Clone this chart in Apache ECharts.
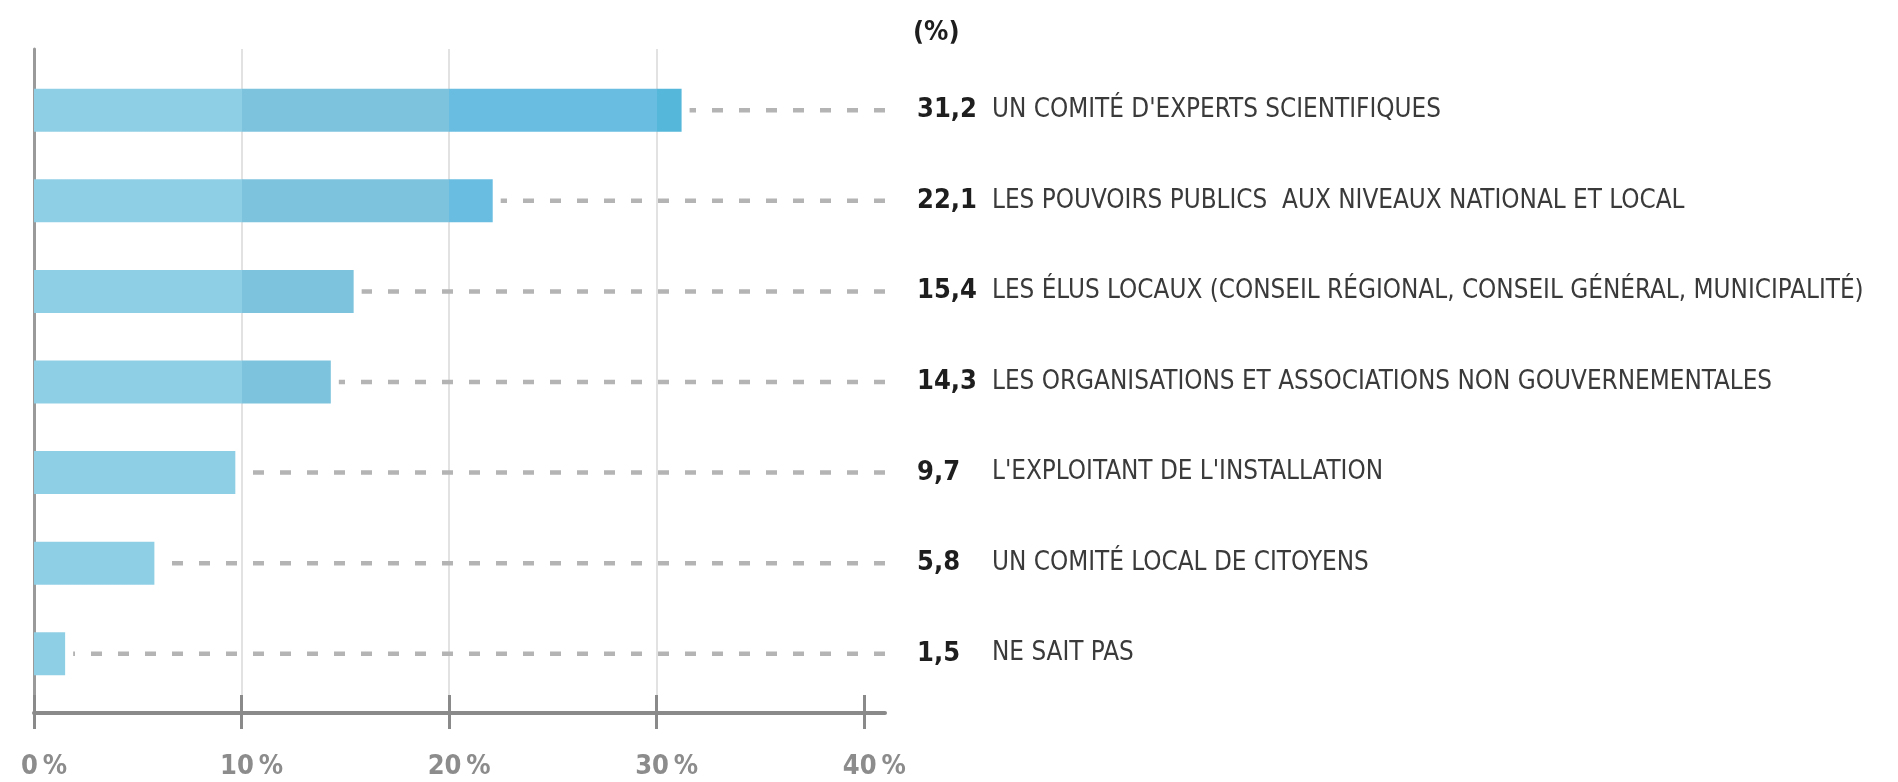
<!DOCTYPE html>
<html>
<head>
<meta charset="utf-8">
<script src="https://cdn.jsdelivr.net/npm/echarts@6/dist/echarts.min.js"></script>
<style>
  html, body { margin: 0; background: #fff; }
  #chart { width: 1898px; height: 782px; }
</style>
</head>
<body>
<div id="chart"></div>
<script>
// données
const categories = [
  "UN COMITÉ D'EXPERTS SCIENTIFIQUES",
  'LES POUVOIRS PUBLICS  AUX NIVEAUX NATIONAL ET LOCAL',
  'LES ÉLUS LOCAUX (CONSEIL RÉGIONAL, CONSEIL GÉNÉRAL, MUNICIPALITÉ)',
  'LES ORGANISATIONS ET ASSOCIATIONS NON GOUVERNEMENTALES',
  "L'EXPLOITANT DE L'INSTALLATION",
  'UN COMITÉ LOCAL DE CITOYENS',
  'NE SAIT PAS',
];
const values = [31.2, 22.1, 15.4, 14.3, 9.7, 5.8, 1.5];
const tickValues = [0, 10, 20, 30, 40];
const axisMax = 41;
const shadeBreaks = [0, 10, 20, 30, 41];
const shadeColors = ['#8fcfe5', '#7dc3de', '#68bde0', '#55b7da'];

const font = "'Liberation Sans Narrow', 'DejaVu Sans Condensed', 'Open Sans', sans-serif";
const fmt = (v) => v.toFixed(1).replace('.', ',');

// dégradé en paliers de 10 %
function stepGradient(v) {
  const stops = [];
  for (let k = 0; k < shadeColors.length; k++) {
    const lo = shadeBreaks[k];
    const hi = shadeBreaks[k + 1];
    if (lo >= v) break;
    stops.push({ offset: lo / v, color: shadeColors[k] });
    stops.push({ offset: Math.min(hi, v) / v, color: shadeColors[k] });
  }
  return new echarts.graphic.LinearGradient(0, 0, 1, 0, stops);
}

const chart = echarts.init(document.getElementById('chart'));

const G = { left: 34, right: 1013, outerBoundsMode: 'none', containLabel: false };

chart.setOption({
  animation: false,
  textStyle: { fontFamily: font },
  title: {
    text: '(%)',
    left: 908,
    top: 14,
    textStyle: { fontFamily: font, fontSize: 27, fontWeight: 'bold', color: '#1e1e1e' },
  },
  grid: [
    { ...G, top: 49, bottom: 69 },   // axes, grille
    { ...G, top: 65, bottom: 83 },   // barres
  ],
  xAxis: [
    {
      gridIndex: 0, type: 'value', min: 0, max: axisMax, interval: 10,
      axisLine: { lineStyle: { color: '#8a8a8a', width: 4 } },
      axisTick: { customValues: tickValues, length: 16, lineStyle: { color: '#8a8a8a', width: 3 } },
      axisLabel: {
        customValues: tickValues,
        margin: 40,
        padding: [0, 0, 0, 20],
        fontSize: 27, fontWeight: 'bold', color: '#8c8c8c', fontFamily: font,
        formatter: (v) => (tickValues.includes(v) ? v + '\u202f%' : ''),
      },
      splitLine: { show: true, showMinLine: false, showMaxLine: false, lineStyle: { color: '#d9d9d9', width: 1.5 } },
    },
    {
      gridIndex: 0, type: 'value', min: 0, max: axisMax, interval: 10, position: 'bottom',
      axisLine: { show: false },
      axisTick: { customValues: tickValues, inside: true, length: 18, lineStyle: { color: '#8a8a8a', width: 3 } },
      axisLabel: { show: false },
      splitLine: { show: false },
    },
    { gridIndex: 1, type: 'value', min: 0, max: axisMax, show: false },
  ],
  yAxis: [
    {
      gridIndex: 0, type: 'value', min: 0, max: 1,
      axisLine: { show: true, lineStyle: { color: '#9a9a9a', width: 3 } },
      axisTick: { show: false }, axisLabel: { show: false }, splitLine: { show: false },
    },
    {
      gridIndex: 1, type: 'category', data: categories, inverse: true, position: 'right',
      axisLine: { show: false }, axisTick: { show: false },
      axisLabel: {
        margin: 32,
        align: 'left',
        formatter: (value, i) => `{v|${fmt(values[i])}}{t|${value}}`,
        rich: {
          v: { fontFamily: font, fontSize: 27, fontWeight: 'bold', color: '#1e1e1e', width: 75 },
          t: { fontFamily: font, fontSize: 25.8, color: '#3a3a3a' },
        },
      },
    },
  ],
  series: [
    {
      type: 'bar',
      xAxisIndex: 2, yAxisIndex: 1,
      barWidth: 43,
      data: values.map((v) => ({ value: v, itemStyle: { color: stepGradient(v) } })),
    },
    {
      type: 'custom',
      xAxisIndex: 2, yAxisIndex: 1,
      data: values.map((v, i) => [v, i]),
      encode: { x: 0, y: 1 },
      renderItem: (params, api) => {
        const from = api.coord([api.value(0), api.value(1)]);
        const to = api.coord([axisMax, api.value(1)]);
        return {
          type: 'line',
          shape: { x1: to[0], y1: to[1], x2: from[0] + 8, y2: from[1] },
          style: { stroke: '#b4b4b4', lineWidth: 4.5, lineDash: [11, 16] },
        };
      },
    },
  ],
});
</script>
</body>
</html>
